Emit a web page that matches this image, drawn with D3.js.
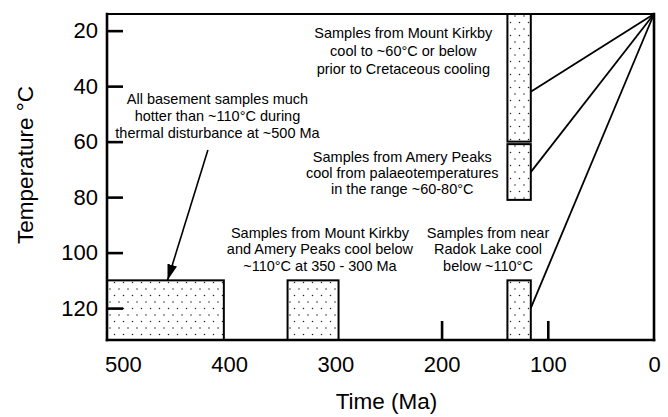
<!DOCTYPE html>
<html>
<head>
<meta charset="utf-8">
<script src="https://cdn.jsdelivr.net/npm/d3@7"></script>
<style>
  html, body { margin: 0; padding: 0; background: #fff; }
  svg { display: block; font-family: "Liberation Sans", Arial, Helvetica, sans-serif; }
</style>
</head>
<body>
<svg id="chart" width="668" height="417"></svg>
<script>
// ---- data ----
const timeDomain = [515, 0];          // Ma, left edge -> right edge
const tempDomain = [14, 131.5];       // °C, top edge -> bottom edge
const xTickValues = [500, 400, 300, 200, 100, 0];
const xInnerTicks = [200, 100];
const yTickValues = [20, 40, 60, 80, 100, 120];

// stippled boxes (time from/to in Ma, temperature top/bottom in °C)
const boxFrom       = [515, 345, 138, 138, 138];
const boxTo         = [405, 297, 116, 116, 116];
const boxTempTop    = [110, 110, 110, 14, 60.9];
const boxTempBottom = [131.5, 131.5, 131.5, 60, 81];

// cooling paths converging to present-day surface temperature
const apexTime = 0, apexTemp = 14;
const pathEndTime = [116, 116, 116];
const pathEndTemp = [42, 71, 120];

// arrow
const arrowStart = [420, 63];
const arrowEnd = [458, 110];

// annotations: centre time, first-baseline temp, line spacing (px), lines
const noteTime = [236, 237, 411, 314.5, 156.3];
const noteTemp = [22.65, 67.3, 46.4, 94.7, 94.7];
const noteGap  = [18, 16, 17, 16.5, 16.5];
const noteLines = [
  ["Samples from Mount Kirkby", "cool to ~60°C or below", "prior to Cretaceous cooling"],
  ["Samples from Amery Peaks", "cool from palaeotemperatures", "in the range ~60-80°C"],
  ["All basement samples much", "hotter than ~110°C during", "thermal disturbance at ~500 Ma"],
  ["Samples from Mount Kirkby", "and Amery Peaks cool below", "~110°C at 350 - 300 Ma"],
  ["Samples from near", "Radok Lake cool", "below ~110°C"]
];

// ---- drawing ----
const svg = d3.select("#chart");
const x = d3.scaleLinear().domain(timeDomain).range([107, 654]);
const y = d3.scaleLinear().domain(tempDomain).range([14, 340]);

const defs = svg.append("defs");
const pat = defs.append("pattern").attr("id", "dots")
  .attr("patternUnits", "userSpaceOnUse").attr("width", 9).attr("height", 13);
pat.append("rect").attr("width", 9).attr("height", 13).attr("fill", "#fff");
pat.append("circle").attr("cx", 2).attr("cy", 3).attr("r", 0.75).attr("fill", "#222");
pat.append("circle").attr("cx", 6.5).attr("cy", 9.5).attr("r", 0.75).attr("fill", "#222");

defs.append("marker").attr("id", "arrowhead")
  .attr("markerUnits", "userSpaceOnUse")
  .attr("viewBox", "0 0 16 10").attr("refX", 16).attr("refY", 5)
  .attr("markerWidth", 16).attr("markerHeight", 10)
  .attr("orient", "auto")
  .append("path").attr("d", "M0,0 L16,5 L0,10 Z").attr("fill", "#000");

// boxes
svg.append("g").selectAll("rect").data(boxFrom).join("rect")
  .attr("x", (d, i) => x(boxFrom[i]))
  .attr("y", (d, i) => y(boxTempTop[i]))
  .attr("width", (d, i) => x(boxTo[i]) - x(boxFrom[i]))
  .attr("height", (d, i) => y(boxTempBottom[i]) - y(boxTempTop[i]))
  .attr("fill", "url(#dots)")
  .attr("stroke", "#000").attr("stroke-width", 2);

// cooling paths
svg.append("g").selectAll("line").data(pathEndTime).join("line")
  .attr("x1", x(apexTime)).attr("y1", y(apexTemp))
  .attr("x2", (d, i) => x(pathEndTime[i]))
  .attr("y2", (d, i) => y(pathEndTemp[i]))
  .attr("stroke", "#000").attr("stroke-width", 1.8);

// arrow
svg.append("line")
  .attr("x1", x(arrowStart[0])).attr("y1", y(arrowStart[1]))
  .attr("x2", x(arrowEnd[0])).attr("y2", y(arrowEnd[1]))
  .attr("stroke", "#000").attr("stroke-width", 1.6)
  .attr("marker-end", "url(#arrowhead)");

// frame
const [t0, t1] = timeDomain, [T0, T1] = tempDomain;
const frame = svg.append("g").attr("stroke", "#000").attr("stroke-linecap", "square");
frame.append("line").attr("x1", x(t0)).attr("x2", x(t1)).attr("y1", y(T0)).attr("y2", y(T0)).attr("stroke-width", 2);
frame.append("line").attr("x1", x(t0)).attr("x2", x(t1)).attr("y1", y(T1)).attr("y2", y(T1)).attr("stroke-width", 2.6);
frame.append("line").attr("x1", x(t0)).attr("x2", x(t0)).attr("y1", y(T0)).attr("y2", y(T1)).attr("stroke-width", 2.6);
frame.append("line").attr("x1", x(t1)).attr("x2", x(t1)).attr("y1", y(T0)).attr("y2", y(T1)).attr("stroke-width", 2.6);

// y axis
const yAxis = svg.append("g").attr("transform", `translate(${x(t0)},0)`)
  .call(d3.axisLeft(y).tickValues(yTickValues).tickSize(-16).tickPadding(9));
yAxis.select(".domain").remove();
yAxis.selectAll(".tick line").attr("stroke-width", 2.6);
yAxis.selectAll(".tick text").attr("font-size", 22).attr("fill", "#000")
  .attr("font-family", "'Liberation Sans', Arial, sans-serif");

// x axis labels
const xAxis = svg.append("g").attr("transform", `translate(0,${y(T1)})`)
  .call(d3.axisBottom(x).tickValues(xTickValues).tickSize(0).tickPadding(16.5));
xAxis.select(".domain").remove();
xAxis.selectAll(".tick text").attr("font-size", 22).attr("fill", "#000")
  .attr("font-family", "'Liberation Sans', Arial, sans-serif");

// x inner ticks
const xTicksG = svg.append("g").attr("transform", `translate(0,${y(T1)})`)
  .call(d3.axisBottom(x).tickValues(xInnerTicks).tickSize(-19).tickFormat(""));
xTicksG.select(".domain").remove();
xTicksG.selectAll(".tick line").attr("stroke-width", 2.6);

// axis titles
svg.append("text").attr("x", (x(t0) + x(t1)) / 2 + 6)
  .attr("y", 409).attr("text-anchor", "middle").attr("font-size", 22.5).text("Time (Ma)");
svg.append("text").attr("transform", `translate(33,${(y(T0) + y(T1)) / 2 - 12}) rotate(-90)`)
  .attr("text-anchor", "middle").attr("font-size", 22.5).text("Temperature °C");

// annotations
const notes = svg.append("g").attr("font-size", 14.5).attr("text-anchor", "middle").attr("fill", "#000");
noteLines.forEach((lines, i) => {
  const t = notes.append("text").attr("x", x(noteTime[i])).attr("y", y(noteTemp[i]));
  lines.forEach((s, j) => {
    t.append("tspan").attr("x", x(noteTime[i])).attr("dy", j === 0 ? 0 : noteGap[i]).text(s);
  });
});
</script>
</body>
</html>
